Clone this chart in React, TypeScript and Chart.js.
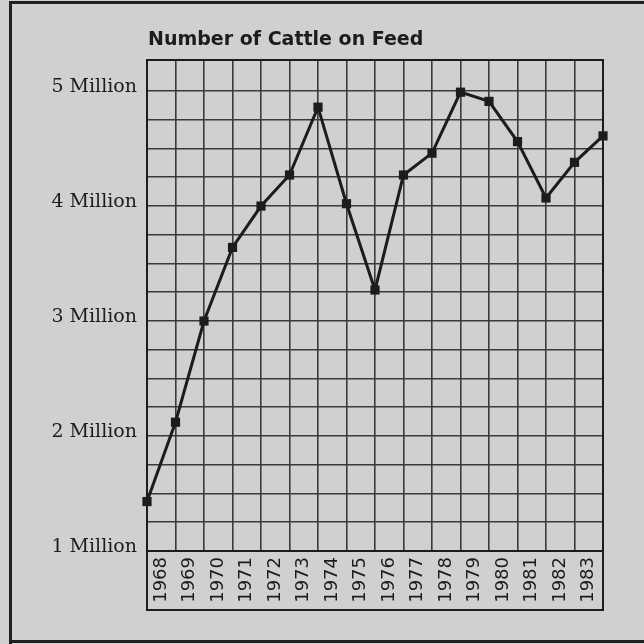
import React, { useEffect, useRef } from "react";
import { Chart, registerables } from "chart.js";

Chart.register(...registerables);

const TITLE = "Number of Cattle on Feed";
const YEAR_LABELS = [
  "1968", "1969", "1970", "1971", "1972", "1973", "1974", "1975",
  "1976", "1977", "1978", "1979", "1980", "1981", "1982", "1983",
];
// points sit on the vertical grid lines (17 lines bounding 16 year cells)
const POINT_POSITIONS = [0, 1, 2, 3, 4, 5, 6, 7, 8, 9, 10, 11, 12, 13, 14, 15, 16];
const CATTLE_MILLIONS = [
  1.43, 2.12, 3.0, 3.64, 4.0, 4.27, 4.86, 4.02, 3.27,
  4.27, 4.46, 4.99, 4.91, 4.56, 4.07, 4.38, 4.61,
];
const Y_MIN = 1;
const Y_MAX = 5.27;
const Y_GRID_STEP = 0.25;

const BG = "#cfd1cf";
const INK = "#1c1c1c";
const GRID = "#3a3a3a";

export default function App() {
  const ref = useRef<HTMLCanvasElement | null>(null);

  useEffect(() => {
    document.body.style.margin = "0";
    const canvas = ref.current;
    if (!canvas) return;

    const decor = {
      id: "decor",
      beforeDraw(chart: any) {
        const { ctx, width, height } = chart;
        ctx.save();
        ctx.fillStyle = BG;
        ctx.fillRect(0, 0, width, height);
        ctx.restore();
      },
      afterDraw(chart: any) {
        const { ctx, chartArea } = chart;
        const xs = chart.scales.x;
        ctx.save();
        // outer frame
        ctx.strokeStyle = "#202020";
        ctx.lineWidth = 3;
        ctx.beginPath();
        ctx.moveTo(10.5, 644);
        ctx.lineTo(10.5, 2.5);
        ctx.lineTo(644, 2.5);
        ctx.stroke();
        ctx.beginPath();
        ctx.moveTo(10, 641.5);
        ctx.lineTo(644, 641.5);
        ctx.stroke();
        // label box under plot
        ctx.strokeStyle = INK;
        ctx.lineWidth = 2;
        ctx.strokeRect(chartArea.left, chartArea.bottom, chartArea.right - chartArea.left, xs.bottom - chartArea.bottom);
        // plot frame
        ctx.lineWidth = 2;
        ctx.strokeRect(chartArea.left, chartArea.top, chartArea.right - chartArea.left, chartArea.bottom - chartArea.top);
        // title
        ctx.fillStyle = INK;
        ctx.font = "bold 19px 'DejaVu Sans'";
        ctx.textAlign = "left";
        ctx.textBaseline = "alphabetic";
        ctx.fillText(TITLE, chartArea.left + 1, 45);
        ctx.restore();
      },
    };

    const chart = new Chart(canvas, {
      type: "line",
      data: {
        datasets: [
          {
            data: POINT_POSITIONS.map((p, i) => ({ x: p, y: CATTLE_MILLIONS[i] })),
            borderColor: INK,
            borderWidth: 3,
            backgroundColor: INK,
            pointStyle: "rect",
            pointRadius: 6.5,
            pointBackgroundColor: INK,
            pointBorderColor: INK,
            pointBorderWidth: 0,
            tension: 0,
            clip: false as any,
          },
        ],
      },
      options: {
        responsive: false,
        animation: false,
        layout: { padding: { left: 10, top: 60, right: 41, bottom: 34 } },
        plugins: {
          legend: { display: false },
          title: { display: false },
          tooltip: { enabled: false },
        },
        scales: {
          x: {
            type: "linear",
            min: 0,
            max: YEAR_LABELS.length,
            afterBuildTicks(scale: any) {
              const t = [];
              for (let v = 0; v <= YEAR_LABELS.length; v += 0.5) t.push({ value: v });
              scale.ticks = t;
            },
            afterFit(scale: any) {
              scale.height = 59;
            },
            grid: {
              color: (c: any) => (c.tick && c.tick.value % 1 === 0 ? GRID : "rgba(0,0,0,0)"),
              lineWidth: 1.6,
              drawTicks: false,
            },
            border: { display: true, color: INK, width: 2 },
            ticks: {
              autoSkip: false,
              minRotation: 90,
              maxRotation: 90,
              padding: 6,
              color: INK,
              font: { family: "'DejaVu Sans'", size: 18 },
              callback: (v: any) => {
                const n = Number(v);
                return n % 1 === 0.5 ? YEAR_LABELS[Math.floor(n)] : "";
              },
            },
          },
          y: {
            type: "linear",
            min: Y_MIN,
            max: Y_MAX,
            afterBuildTicks(scale: any) {
              const t = [];
              for (let v = Y_MIN; v <= 5 + 1e-9; v += Y_GRID_STEP) t.push({ value: v });
              t.push({ value: Y_MAX });
              scale.ticks = t;
            },
            afterFit(scale: any) {
              scale.width = 137;
            },
            grid: {
              color: GRID,
              lineWidth: 1.6,
              drawTicks: false,
            },
            border: { display: true, color: INK, width: 2 },
            ticks: {
              autoSkip: false,
              padding: 10,
              labelOffset: -4,
              color: INK,
              font: { family: "'DejaVu Serif'", size: 19 },
              callback: (v: any) => {
                const n = Number(v);
                return Number.isInteger(n) ? `${n} Million` : "";
              },
            },
          },
        },
      },
      plugins: [decor],
    });

    return () => chart.destroy();
  }, []);

  return <canvas ref={ref} width={644} height={644} style={{ display: "block" }} />;
}
